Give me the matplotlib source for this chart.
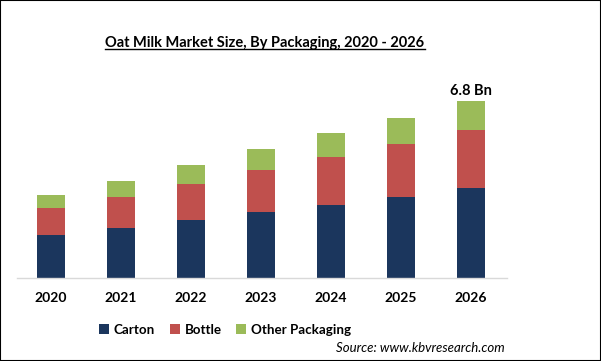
import matplotlib
matplotlib.use("Agg")
import matplotlib.pyplot as plt
import numpy as np
from matplotlib.lines import Line2D
from matplotlib.patches import Rectangle

years = ['2020', '2021', '2022', '2023', '2024', '2025', '2026']
carton = [1.65, 1.93, 2.24, 2.54, 2.80, 3.12, 3.47]
bottle = [1.05, 1.19, 1.37, 1.61, 1.84, 2.02, 2.22]
other = [0.49, 0.61, 0.73, 0.81, 0.92, 1.00, 1.11]
series_names = ['Carton', 'Bottle', 'Other Packaging']
colors = ['#1b365d', '#c0504d', '#9bbb59']

plt.rcParams['font.family'] = ['Lato', 'DejaVu Sans']

fig = plt.figure(figsize=(6.01, 3.61), dpi=100)
W, H = 601, 361
ax = fig.add_axes([17 / W, (H - 278) / H, 490 / W, 195 / H])

x = np.arange(len(years))
bottom = np.zeros(len(years))
handles = []
for vals, name, c in zip([carton, bottle, other], series_names, colors):
    b = ax.bar(x, vals, width=0.4, bottom=bottom, color=c, label=name)
    handles.append(b)
    bottom += np.array(vals)

ax.set_xlim(-0.486, 6.514)
ax.set_ylim(0, 7.5)
ax.set_yticks([])
ax.set_xticks(x)
ax.set_xticklabels(years, fontsize=10, fontweight='bold')
ax.tick_params(axis='x', length=0, pad=10)
for s in ['top', 'right', 'left']:
    ax.spines[s].set_visible(False)
ax.spines['bottom'].set_color('#d9d9d9')
ax.spines['bottom'].set_linewidth(1)

# total label on last bar
ax.text(x[-1], bottom[-1] + 0.12, '%.1f Bn' % bottom[-1], ha='center', va='bottom',
        fontsize=10.5, fontweight='bold')

# title with underline
title = fig.text(265 / W, (H - 43) / H, 'Oat Milk Market Size, By Packaging, 2020 - 2026',
                 ha='center', va='center', fontsize=10.5, fontweight='bold')
fig.canvas.draw()
bb = title.get_window_extent()
uy = (bb.y0 + 1) / H
fig.add_artist(Line2D([bb.x0 / W, bb.x1 / W], [uy, uy], color='black', lw=1))

leg = fig.legend(handles=handles, labels=series_names, loc='center',
                 bbox_to_anchor=(225 / W, (H - 330) / H), ncol=3, frameon=False,
                 fontsize=9.6, handlelength=0.75, handleheight=0.75, handletextpad=0.35,
                 columnspacing=1.1)
for t in leg.get_texts():
    t.set_fontweight('bold')

fig.text(505 / W, (H - 348) / H, 'Source: www.kbvresearch.com', ha='right', va='center',
         fontsize=9.5, style='italic')

fig.add_artist(Rectangle((0, 0), 1, 1, transform=fig.transFigure, fill=False,
                         edgecolor='black', lw=1.5))

fig.savefig('out.png', dpi=100)
